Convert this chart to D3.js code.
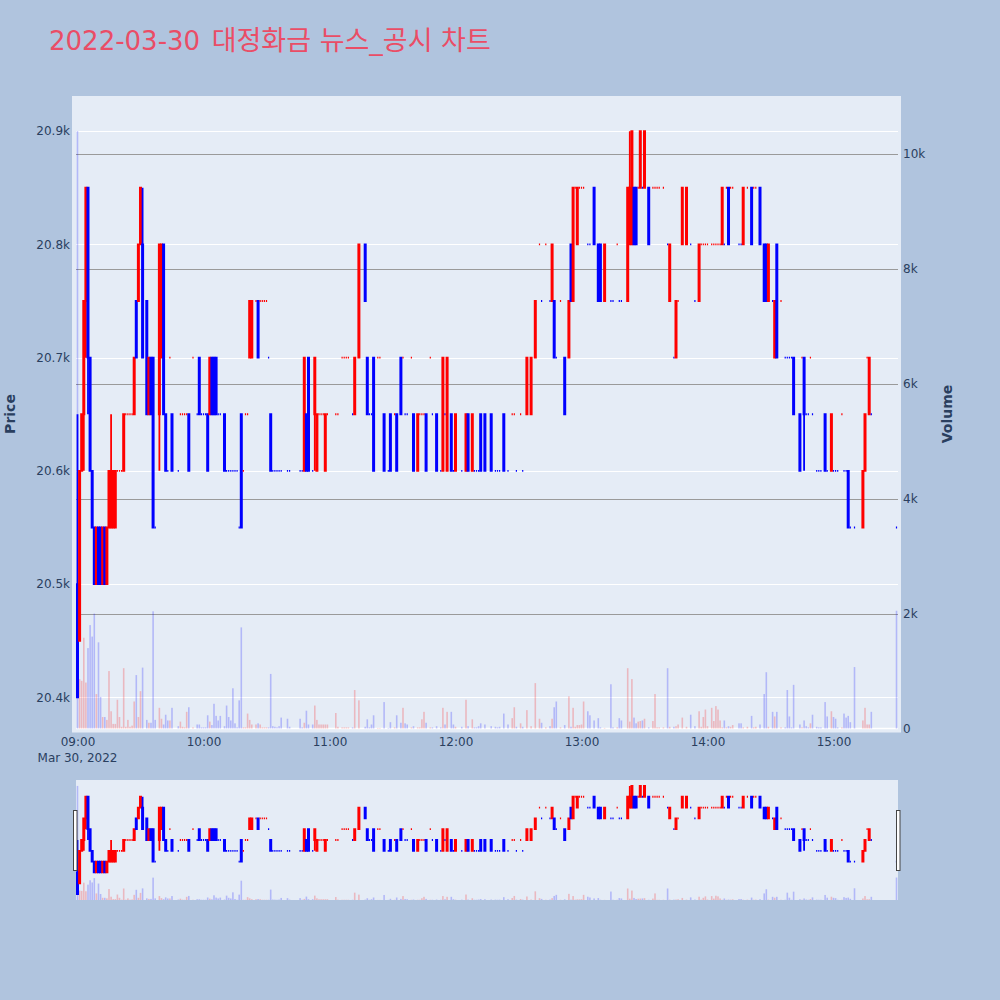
<!DOCTYPE html>
<html><head><meta charset="utf-8">
<script src="https://cdn.jsdelivr.net/npm/d3@7"></script>
<style>body{margin:0;background:#B0C4DE}svg{display:block}</style>
</head><body><svg id="c" width="1000" height="1000"></svg>
<script>
const titleDate = "2022-03-30";
const titleText = "대정화금 뉴스_공시 차트";
const tradeDate = "2022-03-30";
const dateLabel = "Mar 30, 2022";

const times = [
"09:00","09:01","09:02","09:03","09:04","09:05","09:06","09:07","09:08","09:09","09:10","09:11","09:12","09:13","09:14","09:15","09:16","09:17","09:18","09:19","09:20","09:21","09:22","09:23","09:24","09:25","09:26","09:27","09:28","09:29","09:30","09:31","09:33","09:34","09:35","09:36","09:37","09:39","09:40","09:41","09:42","09:43","09:44","09:45","09:48","09:49","09:50","09:51","09:52","09:53","09:55","09:57","09:58","09:59",
"10:00","10:01","10:02","10:03","10:04","10:05","10:06","10:07","10:08","10:10","10:11","10:12","10:13","10:14","10:15","10:16","10:17","10:18","10:19","10:20","10:21","10:22","10:23","10:25","10:26","10:27","10:28","10:29","10:30","10:31","10:32","10:33","10:34","10:35","10:36","10:37","10:40","10:41","10:46","10:47","10:48","10:49","10:50","10:52","10:53","10:54","10:55","10:56","10:57","10:58","10:59",
"11:03","11:04","11:06","11:07","11:08","11:09","11:11","11:12","11:14","11:17","11:18","11:19","11:20","11:21","11:23","11:24","11:26","11:28","11:29","11:31","11:32","11:34","11:35","11:36","11:37","11:39","11:40","11:42","11:43","11:44","11:45","11:46","11:48","11:49","11:51","11:53","11:54","11:55","11:56","11:58","11:59",
"12:00","12:03","12:05","12:06","12:08","12:09","12:10","12:11","12:12","12:14","12:17","12:19","12:20","12:21","12:23","12:25","12:27","12:28","12:29","12:31","12:32","12:34","12:36","12:38","12:40","12:41","12:43","12:45","12:46","12:47","12:48","12:50","12:52","12:54","12:55","12:56","12:57","12:58","12:59",
"13:00","13:01","13:03","13:04","13:06","13:08","13:09","13:11","13:14","13:15","13:17","13:18","13:19","13:22","13:23","13:24","13:25","13:26","13:27","13:28","13:29","13:30","13:32","13:34","13:35","13:36","13:37","13:39","13:41","13:42","13:44","13:45","13:46","13:48","13:50","13:52","13:54","13:56","13:57","13:58","13:59",
"14:00","14:02","14:03","14:04","14:05","14:06","14:07","14:08","14:09","14:10","14:11","14:12","14:15","14:16","14:17","14:19","14:21","14:22","14:23","14:25","14:27","14:28","14:29","14:31","14:32","14:33","14:35","14:37","14:38","14:39","14:40","14:41","14:44","14:45","14:46","14:47","14:48","14:49","14:50","14:52","14:53","14:54","14:56","14:57","14:59",
"15:00","15:01","15:02","15:04","15:05","15:06","15:07","15:08","15:10","15:14","15:15","15:16","15:17","15:18","15:30"];

const opens = [
20500,20450,20600,20650,20750,20850,20700,20600,20550,20500, 20550,20550,20500,20550,20500,20550,20550,20550,20550,20600, 20600,20600,20600,20650,20650,20650,20650,20650,20750,20750, 20800,20800,20750,20650,20700,20700,20550,20650,20700,20800, 20650,20600,20700,20650,20600,20650,20650,20650,20650,20650, 20700,20650,20700,20650,
20650,20650,20650,20650,20700,20700,20700,20650,20650,20650, 20600,20600,20600,20600,20600,20600,20550,20650,20600,20650, 20650,20700,20700,20750,20750,20750,20750,20750,20750,20700, 20650,20600,20600,20600,20600,20600,20600,20600,20600,20600, 20600,20650,20700,20600,20650,20600,20650,20650,20650,20600, 20650,
20650,20650,20700,20700,20700,20700,20650,20650,20700,20800, 20700,20650,20650,20700,20700,20700,20650,20600,20650,20650, 20650,20700,20700,20650,20650,20700,20650,20600,20650,20650, 20650,20650,20700,20650,20650,20600,20600,20650,20600,20650, 20600,
20600,20600,20600,20650,20600,20600,20600,20600,20650,20650, 20650,20600,20600,20600,20650,20600,20650,20650,20600,20650, 20600,20650,20650,20700,20800,20750,20800,20750,20750,20750, 20700,20750,20700,20700,20800,20750,20850,20800,20850,
20850,20850,20800,20800,20850,20800,20800,20750,20750,20750, 20800,20750,20750,20750,20800,20800,20850,20850,20850,20850, 20850,20850,20850,20850,20850,20850,20850,20850,20800,20750, 20700,20700,20750,20800,20800,20800,20750,20750,20800,20800, 20800,
20800,20800,20800,20800,20800,20800,20800,20800,20850,20850, 20850,20850,20800,20800,20800,20850,20850,20850,20850,20850, 20800,20800,20750,20750,20700,20800,20750,20700,20700,20700, 20700,20700,20650,20700,20700,20650,20650,20700,20650,20600, 20600,20600,20650,20600,20600,
20600,20600,20600,20650,20600,20600,20600,20550,20550,20550, 20600,20700,20650,20650,20550];

const highs = [
20650,20600,20650,20750,20850,20850,20700,20600,20550,20550, 20550,20550,20550,20550,20550,20600,20650,20600,20600,20600, 20600,20600,20650,20650,20650,20650,20650,20700,20750,20800, 20850,20850,20750,20700,20700,20700,20550,20800,20800,20800, 20650,20600,20700,20650,20600,20650,20650,20650,20650,20650, 20700,20650,20700,20650,
20650,20650,20650,20700,20700,20700,20700,20650,20650,20650, 20600,20600,20600,20600,20600,20600,20550,20650,20600,20650, 20650,20750,20750,20750,20750,20750,20750,20750,20750,20700, 20650,20600,20600,20600,20600,20600,20600,20600,20600,20600, 20700,20650,20700,20600,20700,20650,20650,20650,20650,20650, 20650,
20650,20650,20700,20700,20700,20700,20650,20700,20800,20800, 20700,20650,20650,20700,20700,20700,20650,20600,20650,20650, 20650,20700,20700,20650,20650,20700,20650,20650,20650,20650, 20650,20650,20700,20650,20650,20600,20700,20650,20700,20650, 20600,
20650,20600,20650,20650,20650,20600,20600,20600,20650,20650, 20650,20600,20600,20600,20650,20600,20650,20650,20600,20650, 20600,20700,20700,20750,20800,20750,20800,20750,20800,20750, 20700,20750,20700,20750,20800,20850,20850,20850,20850,
20850,20850,20800,20800,20850,20800,20800,20800,20750,20750, 20800,20750,20750,20850,20900,20900,20850,20850,20850,20900, 20850,20900,20850,20850,20850,20850,20850,20850,20800,20800, 20700,20750,20750,20850,20850,20800,20750,20800,20800,20800, 20800,
20800,20800,20800,20800,20800,20800,20850,20800,20850,20850, 20850,20850,20800,20800,20850,20850,20850,20850,20850,20850, 20800,20800,20800,20750,20750,20800,20750,20700,20700,20700, 20700,20700,20650,20700,20700,20650,20650,20700,20650,20600, 20600,20600,20650,20600,20650,
20600,20600,20600,20650,20600,20600,20600,20550,20550,20600, 20650,20700,20700,20650,20550];

const lows = [
20400,20450,20600,20600,20700,20650,20600,20550,20500,20500, 20500,20500,20500,20500,20500,20550,20550,20550,20550,20600, 20600,20600,20600,20650,20650,20650,20650,20650,20700,20750, 20800,20700,20650,20650,20650,20550,20550,20600,20700,20650, 20600,20600,20700,20600,20600,20650,20650,20650,20650,20600, 20700,20650,20650,20650,
20650,20650,20600,20650,20650,20650,20650,20650,20650,20600, 20600,20600,20600,20600,20600,20600,20550,20550,20600,20650, 20650,20700,20700,20750,20700,20750,20750,20750,20750,20700, 20600,20600,20600,20600,20600,20600,20600,20600,20600,20600, 20600,20600,20600,20600,20600,20600,20650,20650,20650,20600, 20650,
20650,20650,20700,20700,20700,20700,20650,20650,20700,20750, 20650,20650,20650,20600,20700,20700,20600,20600,20600,20650, 20600,20650,20700,20650,20650,20700,20600,20600,20650,20650, 20650,20600,20700,20650,20600,20600,20600,20650,20600,20600, 20600,
20600,20600,20600,20600,20600,20600,20600,20600,20600,20600, 20600,20600,20600,20600,20600,20600,20650,20650,20600,20650, 20600,20650,20650,20700,20800,20750,20800,20750,20750,20700, 20700,20750,20650,20700,20750,20750,20850,20800,20850,
20850,20850,20800,20800,20800,20750,20750,20750,20750,20750, 20800,20750,20750,20750,20800,20800,20800,20800,20850,20850, 20850,20850,20800,20850,20850,20850,20850,20850,20800,20750, 20700,20700,20750,20800,20800,20800,20750,20750,20800,20800, 20800,
20800,20800,20800,20800,20800,20800,20800,20800,20850,20800, 20850,20850,20800,20800,20800,20850,20800,20850,20850,20800, 20750,20750,20750,20750,20700,20700,20750,20700,20700,20700, 20700,20650,20600,20700,20600,20650,20650,20700,20650,20600, 20600,20600,20600,20600,20600,
20600,20600,20600,20650,20600,20600,20550,20550,20550,20550, 20600,20700,20650,20650,20550];

const closes = [
20400,20600,20650,20750,20850,20700,20600,20550,20500,20550, 20500,20500,20550,20500,20550,20600,20600,20600,20600,20600, 20600,20600,20650,20650,20650,20650,20650,20700,20700,20800, 20850,20700,20650,20700,20650,20550,20550,20800,20800,20650, 20600,20600,20700,20600,20600,20650,20650,20650,20650,20600, 20700,20650,20650,20650,
20650,20650,20600,20700,20650,20650,20650,20650,20650,20600, 20600,20600,20600,20600,20600,20600,20550,20550,20600,20650, 20650,20750,20750,20750,20700,20750,20750,20750,20750,20700, 20600,20600,20600,20600,20600,20600,20600,20600,20600,20600, 20700,20600,20600,20600,20700,20650,20650,20650,20650,20650, 20650,
20650,20650,20700,20700,20700,20700,20650,20700,20800,20750, 20650,20650,20650,20600,20700,20700,20600,20600,20600,20650, 20600,20650,20700,20650,20650,20700,20600,20650,20650,20650, 20650,20600,20700,20650,20600,20600,20700,20650,20700,20600, 20600,
20650,20600,20650,20600,20650,20600,20600,20600,20600,20600, 20600,20600,20600,20600,20600,20600,20650,20650,20600,20650, 20600,20700,20700,20750,20800,20750,20800,20750,20800,20700, 20700,20750,20650,20750,20750,20850,20850,20850,20850,
20850,20850,20800,20800,20800,20750,20750,20800,20750,20750, 20800,20750,20750,20850,20850,20900,20800,20800,20850,20900, 20850,20900,20800,20850,20850,20850,20850,20850,20800,20800, 20700,20750,20750,20850,20850,20800,20750,20800,20800,20800, 20800,
20800,20800,20800,20800,20800,20800,20850,20800,20850,20800, 20850,20850,20800,20800,20850,20850,20800,20850,20850,20800, 20750,20750,20800,20750,20750,20700,20750,20700,20700,20700, 20700,20650,20600,20700,20650,20650,20650,20700,20650,20600, 20600,20600,20600,20600,20650,
20600,20600,20600,20650,20600,20600,20550,20550,20550,20600, 20650,20700,20700,20650,20550];

const volumes = [
10400,860,830,1580,800,1400,1800,1600,2000,600, 1500,550,200,200,150,1000,300,80,80,500, 200,30,1050,30,150,30,50,470,930,200, 650,1060,150,100,100,2040,150,360,170,70, 240,140,140,360,40,120,30,20,290,370, 20,70,70,20,
20,20,230,120,60,430,220,140,220,40, 400,200,140,700,90,20,490,1760,20,20, 260,150,70,70,90,70,20,20,20,20, 950,40,30,20,40,190,170,30,170,20, 100,310,70,70,400,150,70,70,70,70, 70,
270,30,20,20,20,20,20,670,490,30, 160,20,70,230,10,10,460,10,110,20, 230,100,360,90,70,20,40,20,20,160, 290,100,20,20,40,20,360,70,290,290, 70,
30,30,500,40,160,20,20,40,90,70, 40,30,20,30,260,70,180,370,30,90, 30,320,40,790,170,100,20,40,170,370, 470,20,60,560,30,360,30,60,60,
70,470,300,230,140,180,20,10,770,20, 20,180,140,1050,120,860,190,90,120,130, 140,170,20,130,600,20,20,20,1050,30, 30,40,70,190,30,240,40,300,30,200, 330,
40,360,130,390,330,140,20,140,20,40, 30,60,90,90,20,30,220,20,30,70, 600,980,30,290,210,290,20,20,670,210, 20,760,70,20,140,40,20,90,240,30, 20,20,460,210,300,
200,170,20,20,260,190,220,110,1070,140, 360,70,70,290,2050];

const priceTicks = [20400, 20500, 20600, 20700, 20800, 20900];
const priceTickLabels = ["20.4k", "20.5k", "20.6k", "20.7k", "20.8k", "20.9k"];
const volumeTicks = [0, 2000, 4000, 6000, 8000, 10000];
const volumeTickLabels = ["0", "2k", "4k", "6k", "8k", "10k"];
const timeTicks = ["09:00", "10:00", "11:00", "12:00", "13:00", "14:00", "15:00"];

const UP = "#FF0000", DOWN = "#0000FF";
const FONT = "'DejaVu Sans', Verdana, sans-serif";
const TXT = "#2a3f5f";

const parseT = d3.timeParse("%Y-%m-%d %H:%M");
const data = times.map((t, i) => ({
  t: parseT(tradeDate + " " + t), o: opens[i], h: highs[i], l: lows[i], c: closes[i], v: volumes[i]
}));
// direction like plotly: equal open/close compares with previous close
let inc = true, cPrev = null;
data.forEach(d => {
  if (d.c === d.o) { if (cPrev !== null && d.c !== cPrev) inc = d.c > cPrev; }
  else inc = d.c > d.o;
  d.inc = inc; cPrev = d.c;
});

const svg = d3.select("#c");
const X0 = 76, X1 = 898, Y0 = 100, Y1 = 728.5;
const S0 = 780, S1 = 900;

const tExt = d3.extent(data, d => d.t);
const padMs = 42600;
const x = d3.scaleTime().domain([new Date(+tExt[0] - padMs), new Date(+tExt[1] + padMs)]).range([X0, X1]);
const pMin = d3.min(lows), pMax = d3.max(highs), pPad = (pMax - pMin) * 0.055;
const yP = d3.scaleLinear().domain([pMin - pPad, pMax + pPad]).range([Y1, Y0]);
const vMax = d3.max(volumes) * 1.052;
const yV = d3.scaleLinear().domain([0, vMax]).range([Y1, Y0]);
const sP = d3.scaleLinear().domain(yP.domain()).range([S1, S0]);
const sV = d3.scaleLinear().domain(yV.domain()).range([S1, S0]);

// backgrounds
svg.append("rect").attr("x", 72).attr("y", 96).attr("width", 829).attr("height", 636.5).attr("fill", "#E5ECF6");
svg.append("rect").attr("x", X0).attr("y", S0).attr("width", X1 - X0).attr("height", S1 - S0).attr("fill", "#E5ECF6");

// title
const tt = svg.append("text").attr("x", 49).attr("y", 50)
  .attr("font-family", "'DejaVu Sans', 'Noto Sans CJK KR', sans-serif").attr("fill", "#EA4D66");
tt.append("tspan").attr("font-size", 26).text(titleDate);
tt.append("tspan").attr("font-size", 27).attr("dx", 3).text(" " + titleText);

// grids
const grid = svg.append("g");
grid.selectAll("line.p").data(priceTicks).join("line")
  .attr("x1", X0).attr("x2", X1).attr("y1", d => Math.round(yP(d)) + 0.5).attr("y2", d => Math.round(yP(d)) + 0.5)
  .attr("stroke", "#fff").attr("stroke-width", 1);
grid.selectAll("line.v").data(volumeTicks.filter(v => v > 0)).join("line")
  .attr("x1", X0).attr("x2", X1).attr("y1", d => Math.round(yV(d)) + 0.5).attr("y2", d => Math.round(yV(d)) + 0.5)
  .attr("stroke", "#9a9a9a").attr("stroke-width", 1);
grid.append("line").attr("x1", X0).attr("x2", X1).attr("y1", yV(0)).attr("y2", yV(0)).attr("stroke", "#fff").attr("stroke-width", 1.5);

function drawSeries(g, xs, ys, vs) {
  g.selectAll("rect.vol").data(data).join("rect").attr("class", "vol")
    .attr("x", d => xs(d.t) - 0.8).attr("width", 1.6)
    .attr("y", d => vs(d.v)).attr("height", d => vs(0) - vs(d.v))
    .attr("fill", d => d.inc ? UP : DOWN).attr("fill-opacity", 0.22);
  const hw = 0.6;
  g.selectAll("path.cdl").data(data).join("path").attr("class", "cdl")
    .attr("d", d => {
      const cx = xs(d.t), yo = ys(d.o), yc = ys(d.c), yh = ys(d.h), yl = ys(d.l);
      const top = Math.min(yo, yc), bot = Math.max(yo, yc);
      return `M${cx - hw},${yo}H${cx + hw}V${yc}H${cx - hw}Z M${cx},${top}V${yh} M${cx},${bot}V${yl}`;
    })
    .attr("fill", d => d.inc ? UP : DOWN).attr("stroke", d => d.inc ? UP : DOWN).attr("stroke-width", 1.8);
}
drawSeries(svg.append("g"), x, yP, yV);

// range slider
svg.append("clipPath").attr("id", "sc").append("rect").attr("x", X0).attr("y", S0).attr("width", X1 - X0).attr("height", S1 - S0);
drawSeries(svg.append("g").attr("clip-path", "url(#sc)"), x, sP, sV);
[X0 - 2.5, X1 - 1.5].forEach(hx => {
  svg.append("rect").attr("x", hx).attr("y", 810.5).attr("width", 3.5).attr("height", 60)
    .attr("fill", "#fff").attr("stroke", "#444").attr("stroke-width", 1);
});

// axes
const axL = d3.axisLeft(yP).tickValues(priceTicks).tickSize(0).tickPadding(6)
  .tickFormat((d, i) => priceTickLabels[i]);
const gL = svg.append("g").attr("transform", `translate(${X0},0)`).call(axL);
const axR = d3.axisRight(yV).tickValues(volumeTicks).tickSize(0).tickPadding(5)
  .tickFormat((d, i) => volumeTickLabels[i]);
const gR = svg.append("g").attr("transform", `translate(${X1},0)`).call(axR);
const tickDates = timeTicks.map(t => parseT(tradeDate + " " + t));
const axB = d3.axisBottom(x).tickValues(tickDates).tickSize(0).tickPadding(9).tickFormat(d3.timeFormat("%H:%M"));
const gB = svg.append("g").attr("transform", `translate(0,${Y1})`).call(axB);
[gL, gR, gB].forEach(g => {
  g.select(".domain").remove();
  g.selectAll("text").attr("font-family", FONT).attr("font-size", 12).attr("fill", TXT);
});
svg.append("text").attr("x", x(tickDates[0])).attr("y", 762).attr("text-anchor", "middle")
  .attr("font-family", FONT).attr("font-size", 12).attr("fill", TXT).text(dateLabel);

// axis titles
svg.append("text").attr("transform", "translate(14.5,414) rotate(-90)").attr("text-anchor", "middle")
  .attr("font-family", FONT).attr("font-size", 14).attr("font-weight", "bold").attr("fill", TXT).text("Price");
svg.append("text").attr("transform", "translate(951.5,414) rotate(-90)").attr("text-anchor", "middle")
  .attr("font-family", FONT).attr("font-size", 14).attr("font-weight", "bold").attr("fill", TXT).text("Volume");
</script></body></html>
